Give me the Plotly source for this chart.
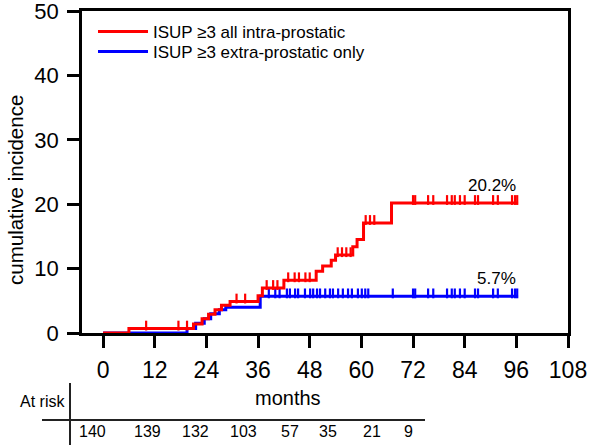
import numpy as np
import plotly.graph_objects as go

# ---- data ----
red_name = "ISUP ≥3 all intra-prostatic"
blue_name = "ISUP ≥3 extra-prostatic only"

red_times = [0, 6, 21, 23, 24.5, 26, 27.5, 29.5, 36, 37, 42, 49.5, 51, 53, 54, 58, 59, 60.5, 67, 96.4]
red_values = [0, 0.7, 1.4, 2.2, 2.9, 3.6, 4.3, 4.9, 5.8, 7.0, 8.2, 9.6, 10.4, 11.3, 12.1, 13.4, 14.5, 17.1, 20.2, 20.2]

blue_times = [0, 19.5, 21.5, 23.5, 25, 27, 28.5, 36.5, 96.4]
blue_values = [0, 0.7, 1.5, 2.2, 3.0, 3.6, 4.0, 5.7, 5.7]

tail_censor = [72, 72.5, 75.5, 76.7, 79.9, 81, 81.7, 82.9, 84, 86.4, 87.1, 90.6, 91.7, 95, 95.7, 96.2]
red_censor = [10, 17.5, 19.5, 31, 33, 38, 39.5, 40.5, 43, 44.5, 45.5, 47, 48, 54.5, 55.5, 56.5, 57.5,
              61, 62, 63] + tail_censor
blue_censor = [38.5, 40, 41, 42.7, 43.4, 44.6, 45.3, 46.9, 48.1, 48.8, 49.7, 50.4, 51.6, 52.7, 53.4,
               54.6, 55.7, 56.9, 57.8, 59.2, 60.1, 60.9, 61.6, 67.3] + tail_censor

final_labels = ["20.2%", "5.7%"]

at_risk = [140, 139, 132, 103, 57, 35, 21, 9]
x_ticks = [0, 12, 24, 36, 48, 60, 72, 84, 96, 108]
y_ticks = [0, 10, 20, 30, 40, 50]

RED = "#FF0000"
BLUE = "#0000FF"
FONT = "Liberation Sans, Arial, sans-serif"

# layout geometry (pixels)
L, R, T, B = 82, 22, 11, 114
W, H = 590, 447
pw = W - L - R
ph = H - T - B


def px_x(x):
    return (x - L) / pw


def px_y(y):
    return (H - B - y) / ph


def step_at(times, values, t):
    idx = np.searchsorted(np.array(times), np.array(t), side="right") - 1
    return np.array(values)[idx]


fig = go.Figure()
# blue drawn first so red overlays it; each series has its own legend box
for name, times, values, cens, col, leg in [
    (blue_name, blue_times, blue_values, blue_censor, BLUE, "legend2"),
    (red_name, red_times, red_values, red_censor, RED, "legend"),
]:
    fig.add_trace(go.Scatter(x=times, y=values, mode="lines", name=name, legend=leg,
                             line=dict(color=col, width=3, shape="hv")))
    cy = step_at(times, values, cens) + 0.45
    fig.add_trace(go.Scatter(x=cens, y=cy, mode="markers", showlegend=False, hoverinfo="skip",
                             marker=dict(symbol="line-ns", size=7,
                                         line=dict(color=col, width=2.2))))

fig.add_annotation(x=96.4, y=red_values[-1], text=final_labels[0], showarrow=False,
                   xanchor="right", yanchor="bottom", yshift=6,
                   font=dict(size=17, color="black", family=FONT))
fig.add_annotation(x=96.4, y=blue_values[-1], text=final_labels[1], showarrow=False,
                   xanchor="right", yanchor="bottom", yshift=6,
                   font=dict(size=17, color="black", family=FONT))


def paper_text(xp, yp, text, size, angle=0):
    fig.add_annotation(x=px_x(xp), y=px_y(yp), xref="paper", yref="paper", text=text,
                       textangle=angle, showarrow=False, xanchor="center", yanchor="middle",
                       font=dict(size=size, color="black", family=FONT))


# y-axis title
paper_text(15, 190, "cumulative incidence", 20.5, -90)

# at-risk table
paper_text(42, 402, "At risk", 16)
paper_text(288, 398, "months", 20)
risk_px = [92, 147, 195, 243, 290, 328, 372, 408]
for n, xp in zip(at_risk, risk_px):
    paper_text(xp, 431, str(n), 16)
fig.add_shape(type="line", xref="paper", yref="paper", x0=px_x(42), x1=px_x(425),
              y0=px_y(420), y1=px_y(420), line=dict(color="#222", width=2))
fig.add_shape(type="line", xref="paper", yref="paper", x0=px_x(70), x1=px_x(70),
              y0=px_y(383), y1=px_y(445), line=dict(color="#222", width=2))

leg_common = dict(xanchor="left", yanchor="top", font=dict(size=17, color="black", family=FONT),
                  bgcolor="rgba(0,0,0,0)", itemwidth=50)

fig.update_layout(
    width=W, height=H,
    margin=dict(l=L, r=R, t=T, b=B, autoexpand=False),
    plot_bgcolor="white", paper_bgcolor="white",
    font=dict(family=FONT, color="black"),
    showlegend=True,
    legend=dict(x=px_x(93), y=px_y(14), **leg_common),
    legend2=dict(x=px_x(93), y=px_y(34), **leg_common),
    xaxis=dict(range=[-4.9, 108], tickmode="array", tickvals=x_ticks,
               ticks="outside", ticklen=12, tickwidth=2.5, tickcolor="black",
               showline=True, linewidth=2.5, linecolor="black", mirror=True,
               showgrid=False, zeroline=False, ticklabelstandoff=3, ticklabeloverflow="allow",
               tickfont=dict(size=23, color="black", family=FONT)),
    yaxis=dict(range=[0, 50], tickmode="array", tickvals=y_ticks,
               ticks="outside", ticklen=12, tickwidth=2.5, tickcolor="black",
               showline=True, linewidth=2.5, linecolor="black", mirror=True,
               showgrid=False, zeroline=False, ticklabelstandoff=4, ticklabeloverflow="allow",
               tickfont=dict(size=22, color="black", family=FONT)),
)

fig.write_html("out.html", config={"displayModeBar": False},
               post_script="document.body.style.margin='0px';")
